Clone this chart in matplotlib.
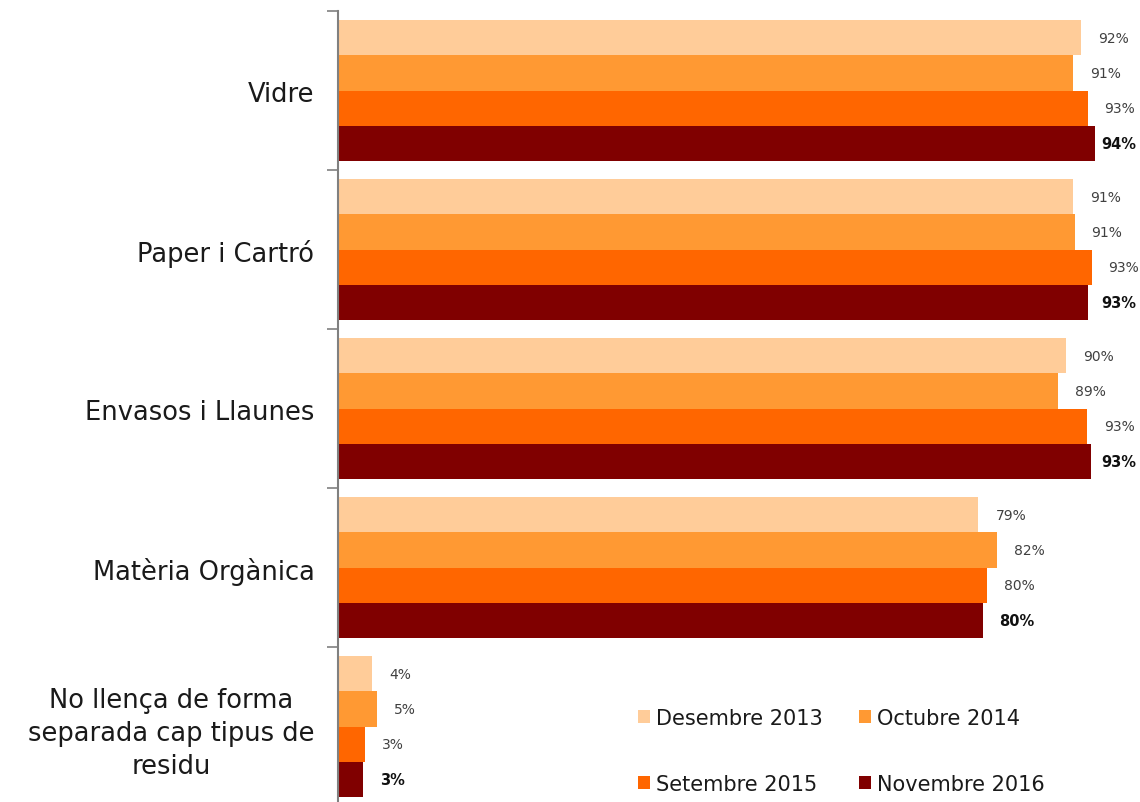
import matplotlib
matplotlib.use("Agg")
import matplotlib.pyplot as plt
import numpy as np
from matplotlib.patches import Patch

categories = ["Vidre", "Paper i Cartró", "Envasos i Llaunes", "Matèria Orgànica",
              "No llença de forma\nseparada cap tipus de\nresidu"]
series_names = ["Desembre 2013", "Octubre 2014", "Setembre 2015", "Novembre 2016"]
des2013 = [92.0, 91.0, 90.1, 79.3, 4.2]
oct2014 = [91.0, 91.2, 89.1, 81.6, 4.8]
set2015 = [92.8, 93.3, 92.7, 80.3, 3.3]
nov2016 = [93.7, 92.9, 93.2, 79.8, 3.1]
colors = ["#FFCC99", "#FF9933", "#FF6600", "#800000"]

plt.rcParams['font.family'] = ['DejaVu Sans']
fig = plt.figure(figsize=(11.4, 8.03), dpi=100)
ax = fig.add_axes([338/1140, -4/803, 1 - 338/1140, 795/803])

series = [des2013, oct2014, set2015, nov2016]
h = 0.222
y = np.arange(len(categories))
xmax = 99.3
for i, (vals, c) in enumerate(zip(series, colors)):
    pos = y + (i - 1.5) * h
    ax.barh(pos, vals, height=h, color=c, edgecolor='none')
    for p, v in zip(pos, vals):
        bold = (i == 3)
        xt = v + 2.1
        if bold:
            xt = min(xt, xmax - 4.8)
        ax.text(xt, p, f"{int(round(v))}%", va='center', ha='left',
                fontsize=10.5 if bold else 10,
                fontweight='bold' if bold else 'normal',
                color='#111111' if bold else '#404040')

ax.set_xlim(0, xmax)
ax.set_ylim(len(categories) - 0.5, -0.5)
ax.set_xticks([])
ax.set_yticks(y)
ax.set_yticklabels(categories, fontsize=18.5, color='#1a1a1a', linespacing=1.35)
for t in ax.get_yticklabels():
    t.set_multialignment('center')
ax.set_yticks(np.arange(-0.5, len(categories) + 0.5, 1), minor=True)
ax.tick_params(axis='y', which='major', length=0, pad=17)
ax.tick_params(axis='y', which='minor', length=8, width=1.2, color='#808080', direction='out')
for s in ['top', 'right', 'bottom']:
    ax.spines[s].set_visible(False)
ax.spines['left'].set_color('#808080')
ax.spines['left'].set_linewidth(1.5)

handles = [Patch(facecolor=c, edgecolor='none') for c in colors]
order = [0, 2, 1, 3]
fig.legend([handles[k] for k in order], [series_names[k] for k in order],
           ncol=2, loc='upper left',
           bbox_to_anchor=(619/1140, 1 - 690/803), frameon=False,
           fontsize=15, handlelength=0.6, handleheight=0.6, handletextpad=0.3,
           columnspacing=1.7, labelspacing=2.2, labelcolor='#1a1a1a')

fig.savefig("out.png", dpi=100)
